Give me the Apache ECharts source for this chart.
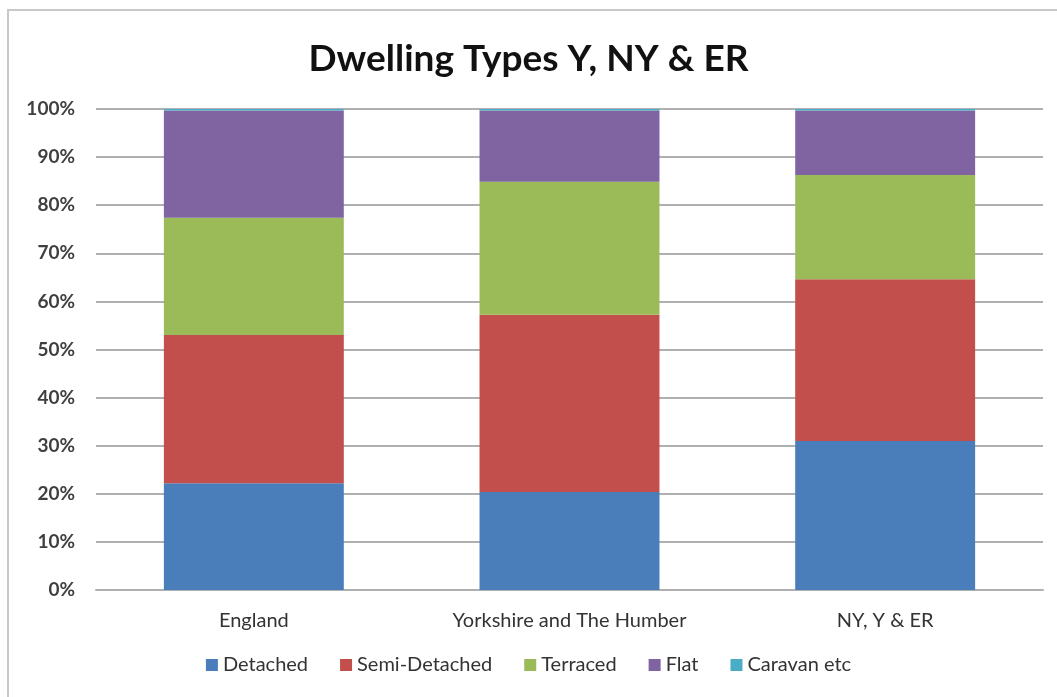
<!DOCTYPE html>
<html>
<head>
<meta charset="utf-8">
<script src="https://cdn.jsdelivr.net/npm/echarts@6/dist/echarts.min.js"></script>
<style>
  html, body { margin: 0; padding: 0; background: #fff; }
  #chart { width: 1057px; height: 697px; }
</style>
</head>
<body>
<div id="chart"></div>
<script>
var categories = ['England', 'Yorkshire and The Humber', 'NY, Y & ER']
var detached = [22.2, 20.4, 31.0]
var semiDetached = [30.8, 36.8, 33.6]
var terraced = [24.4, 27.7, 21.7]
var flat = [22.3, 14.8, 13.4]
var caravan = [0.3, 0.3, 0.3]
var yTicks = [0, 10, 20, 30, 40, 50, 60, 70, 80, 90, 100]

var colors = ['#4a7ebb', '#c24f4c', '#9bbb59', '#8064a2', '#4bacc6']
var font = 'Lato, "Open Sans", sans-serif'

function bar(name, data) {
  return {
    name: name,
    type: 'bar',
    stack: 'all',
    barCategoryGap: '43%',
    data: data
  }
}

var chart = echarts.init(document.getElementById('chart'))
chart.setOption({
  color: colors,
  animation: false,
  title: {
    text: 'Dwelling Types Y, NY & ER',
    left: 'center',
    top: 36,
    textStyle: { fontFamily: font, fontSize: 37, fontWeight: 'bold', color: '#111' }
  },
  graphic: [{
    type: 'rect',
    shape: { x: 8, y: 10, width: 1070, height: 720 },
    style: { fill: 'none', stroke: '#c8c8c8', lineWidth: 2 },
    silent: true
  }],
  grid: { left: 96, right: 14, top: 109, bottom: 107 },
  legend: {
    bottom: 17,
    left: 'center',
    itemWidth: 12,
    itemHeight: 12,
    itemGap: 32,
    icon: 'rect',
    textStyle: { fontFamily: font, fontSize: 20, color: '#333' },
    data: ['Detached', 'Semi-Detached', 'Terraced', 'Flat', 'Caravan etc']
  },
  xAxis: {
    type: 'category',
    data: categories,
    axisLine: { lineStyle: { color: '#b0b0b0', width: 2 } },
    axisTick: { show: false },
    axisLabel: { interval: 0, margin: 21, fontFamily: font, fontSize: 20, color: '#333' }
  },
  yAxis: {
    type: 'value',
    min: yTicks[0],
    max: yTicks[yTicks.length - 1],
    interval: 10,
    axisLine: { show: false },
    axisTick: { show: false },
    splitLine: { lineStyle: { color: '#b0b0b0', width: 2 } },
    axisLabel: {
      margin: 21,
      fontFamily: font,
      fontSize: 19,
      fontWeight: 'bold',
      color: '#404040',
      formatter: '{value}%'
    }
  },
  series: [
    bar('Detached', detached),
    bar('Semi-Detached', semiDetached),
    bar('Terraced', terraced),
    bar('Flat', flat),
    bar('Caravan etc', caravan)
  ]
})
</script>
</body>
</html>
